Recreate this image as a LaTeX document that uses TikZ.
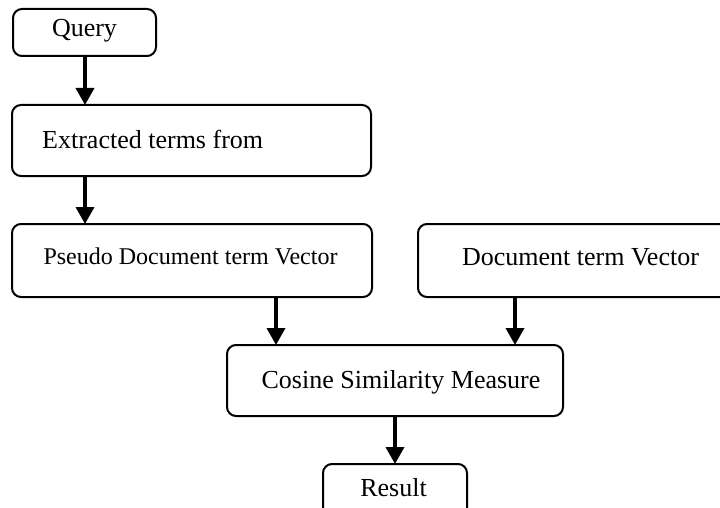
\documentclass[tikz,border=0pt]{standalone}
\usepackage{fontspec}
\setmainfont{Liberation Serif}
\usetikzlibrary{arrows.meta}
\tikzset{
  box/.style={draw=black, line width=2pt, rounded corners=9pt, rectangle, inner sep=0pt},
  lbl/.style={inner sep=0pt, font=\fontsize{26}{30}\selectfont},
  slbl/.style={inner sep=0pt, font=\fontsize{24}{28}\selectfont},
  arr/.style={line width=3.6pt, -{Triangle[length=17pt, width=18pt]}, shorten <=-1pt, shorten >=-1pt}
}
\begin{document}
\begin{tikzpicture}[x=1pt, y=-1pt]
\useasboundingbox (0,0) rectangle (720,508);
\clip (0,0) rectangle (720,508);
% boxes
\node[box, minimum width=143pt, minimum height=47pt] (q) at (84.5,32.5) {};
\node[box, minimum width=359pt, minimum height=71pt] (ex) at (191.5,140.5) {};
\node[box, minimum width=360pt, minimum height=73pt] (ps) at (192,260.5) {};
\node[box, minimum width=312pt, minimum height=73pt] (dv) at (574,260.5) {};
\node[box, minimum width=336pt, minimum height=71pt] (cs) at (395,380.5) {};
\node[box, minimum width=144pt, minimum height=58pt] (rs) at (395,493) {};
% texts
\node[lbl, anchor=base] (tq) at (84.5,37) {Query};
\node[lbl, anchor=base west] (tex) at (42,149) {Extracted terms from};
\node[slbl, anchor=base] (tps) at (190.5,264) {Pseudo Document term Vector};
\node[lbl, anchor=base] (tdv) at (580.5,265) {Document term Vector};
\node[lbl, anchor=base] (tcs) at (401,388) {Cosine Similarity Measure};
\node[lbl, anchor=base] (trs) at (393.5,496) {Result};
% connector columns
\coordinate (c1) at (85,0);
\coordinate (c2) at (276,0);
\coordinate (c3) at (515,0);
\coordinate (c4) at (395,0);
\draw[arr] (q.south -| c1) -- (ex.north -| c1);
\draw[arr] (ex.south -| c1) -- (ps.north -| c1);
\draw[arr] (ps.south -| c2) -- (cs.north -| c2);
\draw[arr] (dv.south -| c3) -- (cs.north -| c3);
\draw[arr] (cs.south -| c4) -- (rs.north -| c4);
\end{tikzpicture}
\end{document}
